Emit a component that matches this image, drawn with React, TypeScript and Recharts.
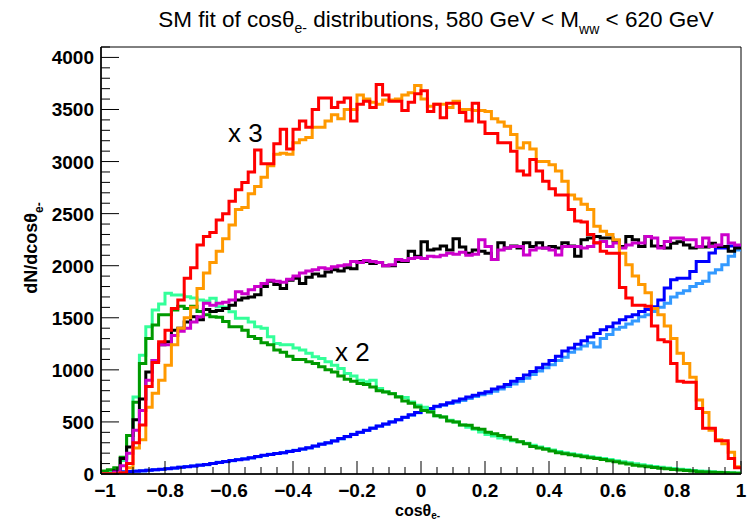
import React from 'react';
import { LineChart, Line, XAxis, YAxis, ReferenceArea } from 'recharts';

// bin contents, 100 bins of width 0.02 from -1 to 1
const RED_X3 = [
  0, 0, 0, 10, 100, 300, 470, 840, 1070, 1270,
  1380, 1590, 1670, 1880, 1980, 2200, 2280, 2320, 2440, 2500,
  2620, 2730, 2800, 2900, 3110, 2980, 2980, 3170, 3310, 3120,
  3310, 3390, 3330, 3500, 3610, 3610, 3520, 3570, 3610, 3390,
  3550, 3580, 3520, 3740, 3640, 3580, 3580, 3490, 3570, 3650,
  3680, 3480, 3550, 3420, 3560, 3560, 3470, 3390, 3560, 3380,
  3270, 3270, 3180, 3180, 3100, 2910, 2870, 3020, 2910, 2810,
  2740, 2680, 2680, 2540, 2430, 2420, 2300, 2220, 2140, 2120,
  2120, 1790, 1690, 1620, 1620, 1610, 1420, 1290, 1270, 1060,
  890, 880, 880, 630, 440, 440, 320, 320, 150, 60,
];

const ORANGE_X3 = [
  0, 0, 0, 10, 60, 250, 330, 640, 775, 900,
  1045, 1240, 1400, 1500, 1600, 1780, 1930, 2030, 2140, 2260,
  2390, 2540, 2560, 2690, 2760, 2850, 2960, 3070, 3080, 3070,
  3180, 3210, 3230, 3330, 3330, 3390, 3450, 3410, 3500, 3500,
  3640, 3600, 3570, 3550, 3590, 3590, 3600, 3640, 3660, 3730,
  3600, 3530, 3550, 3550, 3520, 3580, 3500, 3500, 3490, 3490,
  3480, 3410, 3380, 3340, 3260, 3130, 3180, 3120, 3000, 3000,
  2970, 2910, 2810, 2680, 2640, 2590, 2540, 2380, 2330, 2300,
  2250, 2120, 2010, 1900, 1820, 1740, 1590, 1530, 1420, 1300,
  1160, 1060, 930, 710, 590, 420, 330, 290, 210, 70,
];

const BLACK = [
  0, 0, 30, 150, 260, 520, 720, 980, 1090, 1240,
  1270, 1380, 1400, 1460, 1510, 1480, 1580, 1560, 1570, 1590,
  1620, 1670, 1690, 1700, 1720, 1800, 1850, 1820, 1780, 1860,
  1880, 1830, 1890, 1920, 1900, 1940, 1960, 1950, 1980, 1970,
  2040, 2040, 2020, 2030, 2000, 2000, 2040, 2040, 2140, 2090,
  2230, 2150, 2160, 2190, 2150, 2260, 2180, 2120, 2150, 2140,
  2120, 2060, 2220, 2170, 2190, 2170, 2220, 2185, 2220, 2170,
  2185, 2170, 2220, 2190, 2090, 2250, 2265, 2280, 2265, 2265,
  2240, 2185, 2280, 2250, 2185, 2280, 2190, 2185, 2170, 2215,
  2230, 2200, 2170, 2180, 2180, 2215, 2185, 2185, 2140, 2170,
];

const MAGENTA = [
  0, 0, 20, 80, 200, 420, 610, 900, 1090, 1240,
  1240, 1330, 1370, 1400, 1460, 1510, 1640, 1620, 1640, 1650,
  1670, 1750, 1730, 1770, 1800, 1830, 1860, 1850, 1840, 1870,
  1900, 1930, 1950, 1960, 1980, 1970, 1990, 2000, 2010, 2040,
  2030, 2050, 2040, 2030, 2000, 2010, 2060, 2050, 2070, 2080,
  2070, 2090, 2085, 2100, 2120, 2110, 2130, 2100, 2110, 2250,
  2185, 2060, 2150, 2170, 2185, 2185, 2104, 2150, 2170, 2170,
  2150, 2104, 2185, 2185, 2185, 2170, 2185, 2217, 2233, 2185,
  2217, 2170, 2200, 2217, 2217, 2281, 2265, 2170, 2233, 2265,
  2265, 2249, 2249, 2185, 2265, 2185, 2200, 2297, 2217, 2200,
];

const BLUE = [
  12, 15, 18, 20, 24, 27, 31, 36, 40, 45,
  50, 58, 64, 70, 78, 84, 92, 102, 110, 120,
  130, 138, 145, 155, 168, 180, 188, 196, 205, 215,
  226, 240, 252, 268, 285, 300, 318, 340, 360, 380,
  400, 420, 440, 460, 480, 500, 522, 545, 568, 590,
  612, 630, 650, 665, 685, 700, 720, 740, 755, 775,
  790, 815, 835, 860, 890, 917, 950, 985, 1020, 1055,
  1090, 1130, 1180, 1210, 1245, 1280, 1315, 1350, 1385, 1415,
  1450, 1480, 1510, 1530, 1560, 1580, 1607, 1671, 1785, 1864,
  1880, 1880, 1945, 2040, 2040, 2121, 2170, 2170, 2190, 2190,
];

const LIGHT_BLUE = [
  10, 14, 17, 21, 23, 28, 30, 35, 42, 44,
  52, 56, 65, 72, 76, 86, 90, 100, 112, 118,
  128, 140, 147, 153, 166, 178, 190, 198, 203, 218,
  228, 238, 250, 266, 287, 298, 320, 336, 358, 382,
  398, 418, 442, 458, 478, 502, 520, 542, 565, 588,
  610, 625, 645, 660, 678, 690, 705, 725, 745, 760,
  775, 795, 815, 840, 865, 890, 920, 955, 990, 1020,
  1050, 1090, 1120, 1170, 1200, 1230, 1260, 1220, 1300, 1340,
  1390, 1410, 1440, 1470, 1510, 1530, 1560, 1600, 1640, 1700,
  1735, 1760, 1800, 1830, 1850, 1930, 1960, 2010, 2090, 2150,
];

const GREEN_X2 = [
  30, 40, 60, 160, 370, 690, 1060, 1300, 1430, 1530,
  1530, 1575, 1610, 1590, 1610, 1560, 1530, 1510, 1505, 1465,
  1415, 1415, 1380, 1320, 1300, 1260, 1240, 1190, 1170, 1130,
  1100, 1100, 1077, 1060, 1029, 1000, 980, 940, 910, 890,
  869, 860, 836, 800, 788, 770, 740, 700, 680, 644,
  610, 596, 560, 548, 510, 499, 470, 467, 440, 430,
  400, 386, 370, 354, 330, 310, 290, 265, 250, 238,
  220, 205, 195, 185, 175, 165, 155, 148, 140, 128,
  118, 105, 95, 85, 78, 70, 62, 55, 50, 44,
  38, 33, 28, 22, 20, 17, 14, 12, 10, 8,
];

const LIGHT_GREEN_X2 = [
  20, 30, 50, 130, 370, 740, 1140, 1415, 1575, 1633,
  1735, 1719, 1719, 1703, 1690, 1671, 1660, 1687, 1607, 1600,
  1559, 1495, 1495, 1460, 1415, 1400, 1318, 1254, 1240, 1240,
  1210, 1190, 1160, 1125, 1110, 1077, 1044, 1013, 965, 940,
  900, 885, 900, 820, 790, 772, 745, 735, 692, 660,
  640, 600, 560, 548, 515, 500, 470, 450, 430, 403,
  380, 365, 345, 335, 320, 310, 295, 275, 260, 245,
  230, 215, 205, 195, 185, 175, 165, 155, 148, 140,
  128, 118, 108, 98, 88, 80, 72, 65, 58, 52,
  45, 40, 34, 30, 26, 22, 18, 15, 12, 10,
];

const X_MAJOR = [-1, -0.8, -0.6, -0.4, -0.2, 0, 0.2, 0.4, 0.6, 0.8, 1];
const X_LABELS = ['\u22121', '\u22120.8', '\u22120.6', '\u22120.4', '\u22120.2', '0', '0.2', '0.4', '0.6', '0.8', '1'];
const Y_MAJOR = [0, 500, 1000, 1500, 2000, 2500, 3000, 3500, 4000];

const X_TICKS = Array.from({ length: 41 }, (_, i) => Math.round((-1 + i * 0.05) * 100) / 100);
const Y_TICKS = Array.from({ length: 42 }, (_, i) => i * 100);

const NBINS = RED_X3.length;
const FONT = '"Liberation Sans", Arial, Helvetica, sans-serif';

// one row per bin low edge, plus the upper edge of the last bin so the step closes
const rows = Array.from({ length: NBINS + 1 }, (_, i) => {
  const k = Math.min(i, NBINS - 1);
  return {
    x: Math.round((-1 + i * 0.02) * 100) / 100,
    red: RED_X3[k],
    orange: ORANGE_X3[k],
    black: BLACK[k],
    magenta: MAGENTA[k],
    blue: BLUE[k],
    lightBlue: LIGHT_BLUE[k],
    green: GREEN_X2[k],
    lightGreen: LIGHT_GREEN_X2[k],
  };
});

const SERIES = [
  { key: 'lightBlue', color: '#3399ff' },
  { key: 'blue', color: '#0000ff' },
  { key: 'lightGreen', color: '#33ff99' },
  { key: 'green', color: '#009900' },
  { key: 'black', color: '#000000' },
  { key: 'magenta', color: '#cc00cc' },
  { key: 'orange', color: '#ff9900' },
  { key: 'red', color: '#ff0000' },
];

const XTick = (props: any) => {
  const { x, y, payload } = props;
  const v = payload.value;
  const idx = X_MAJOR.findIndex((m) => Math.abs(m - v) < 1e-6);
  const major = idx >= 0;
  // the first label is nudged right so it clears the "0" of the y axis
  const lx = idx === 0 ? x + 4 : x;
  return (
    <g>
      <line x1={x} x2={x} y1={y} y2={y - (major ? 13 : 7)} stroke="#000" strokeWidth={1} />
      {major && (
        <text x={lx} y={y + 23} textAnchor="middle" fontFamily={FONT} fontWeight="bold" fontSize={19} fill="#000">
          {X_LABELS[idx]}
        </text>
      )}
    </g>
  );
};

const YTick = (props: any) => {
  const { x, y, payload } = props;
  const v = payload.value;
  if (v > 4100) return <g />;
  const major = Y_MAJOR.includes(v);
  return (
    <g>
      <line x1={x} x2={x + (major ? 18 : 9)} y1={y} y2={y} stroke="#000" strokeWidth={1} />
      {major && (
        <text x={x - 7} y={y + 7} textAnchor="end" fontFamily={FONT} fontWeight="bold" fontSize={19} fill="#000">
          {v}
        </text>
      )}
    </g>
  );
};

const App = () => {
  return (
    <div style={{ position: 'absolute', left: 0, top: 0, width: 749, height: 521, background: '#fff' }}>
      <LineChart width={749} height={521} data={rows} margin={{ top: 47, right: 8, bottom: 0, left: 0 }}>
        <XAxis
          dataKey="x"
          type="number"
          domain={[-1, 1]}
          ticks={X_TICKS}
          interval={0}
          tickLine={false}
          tickSize={0}
          tickMargin={0}
          height={47}
          axisLine={{ stroke: '#000', strokeWidth: 1.5 }}
          tick={(p: any) => <XTick {...p} />}
          allowDataOverflow
        />
        <YAxis
          type="number"
          domain={[0, 4100]}
          ticks={Y_TICKS.filter((t) => t <= 4100)}
          interval={0}
          tickLine={false}
          tickSize={0}
          tickMargin={0}
          width={101}
          axisLine={{ stroke: '#000', strokeWidth: 1.5 }}
          tick={(p: any) => <YTick {...p} />}
          allowDataOverflow
        />
        <ReferenceArea x1={-1} x2={1} y1={0} y2={4100} fill="none" stroke="#000" strokeWidth={1} />
        {SERIES.map((s) => (
          <Line
            key={s.key}
            dataKey={s.key}
            type="stepAfter"
            stroke={s.color}
            strokeWidth={3}
            dot={false}
            activeDot={false}
            isAnimationActive={false}
          />
        ))}
      </LineChart>
      <svg width={749} height={521} style={{ position: 'absolute', left: 0, top: 0, pointerEvents: 'none' }}>
        <text x={436} y={27} textAnchor="middle" fontFamily={FONT} fontSize={22.5} fill="#000">
          SM fit of cos{'\u03b8'}
          <tspan fontSize={14} dy={6}>e-</tspan>
          <tspan dy={-6}> distributions, 580 GeV &lt; M</tspan>
          <tspan fontSize={14} dy={7}>ww</tspan>
          <tspan dy={-7}> &lt; 620 GeV</tspan>
        </text>
        <text
          x={0}
          y={0}
          transform="translate(37,248) rotate(-90)"
          textAnchor="middle"
          fontFamily={FONT}
          fontWeight="bold"
          fontSize={18}
          fill="#000"
        >
          dN/dcos{'\u03b8'}
          <tspan fontSize={12} dy={6}>e-</tspan>
        </text>
        <text x={395} y={516} fontFamily={FONT} fontWeight="bold" fontSize={16} fill="#000">
          cos{'\u03b8'}
          <tspan fontSize={10} dy={3}>e-</tspan>
        </text>
        <text x={228} y={142} fontFamily={FONT} fontSize={26} fill="#000">x 3</text>
        <text x={335} y={361} fontFamily={FONT} fontSize={26} fill="#000">x 2</text>
      </svg>
    </div>
  );
};

export default App;
